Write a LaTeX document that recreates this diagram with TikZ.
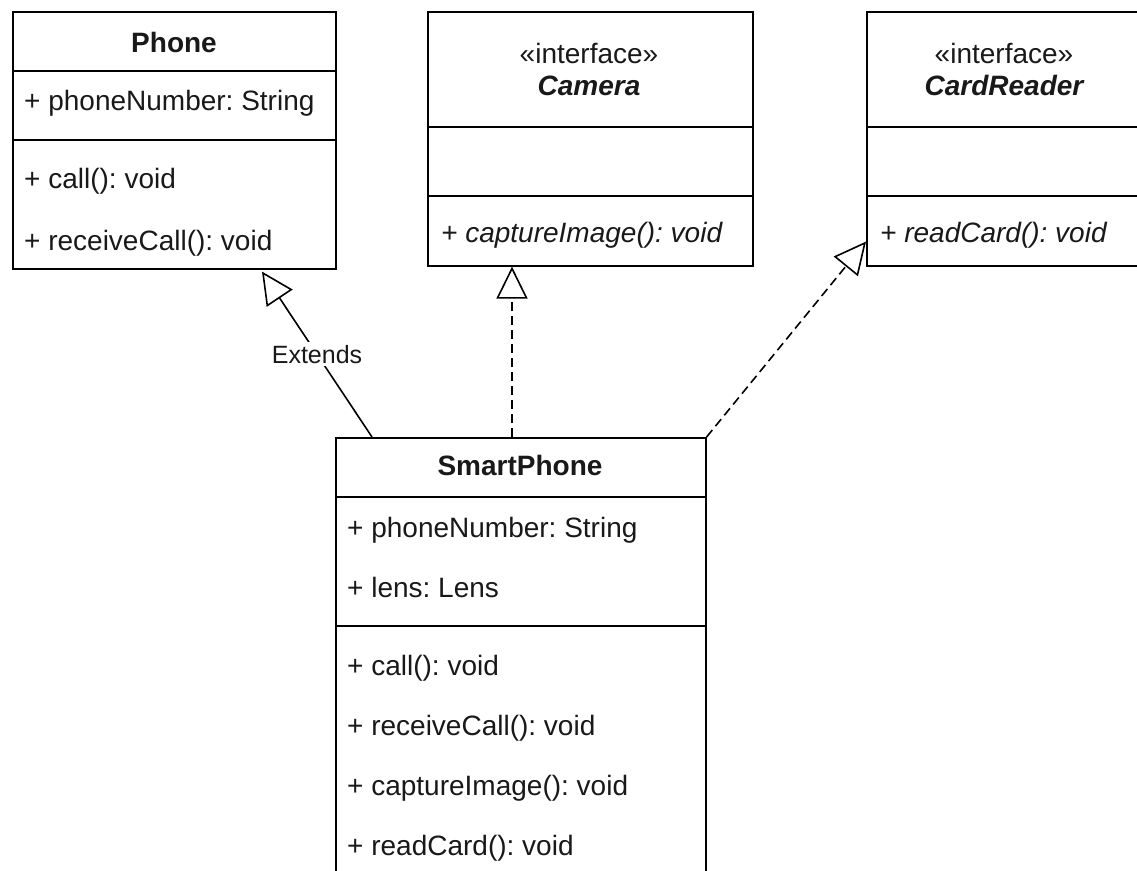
\documentclass[tikz,border=0pt]{standalone}
\usepackage{fontspec}
\setmainfont{Liberation Sans}
\usetikzlibrary{arrows.meta}
\frenchspacing
\begin{document}
\begin{tikzpicture}[x=1pt,y=-1pt,
  umlbox/.style={draw=black, line width=1.6pt, fill=none, inner sep=0pt, anchor=north west},
  sep/.style={line width=1.5pt},
  txt/.style={anchor=base west, inner sep=0pt, font=\fontsize{28}{34}\selectfont, text=black!90},
  itxt/.style={txt, font=\fontsize{28}{34}\selectfont\itshape},
  head/.style={anchor=base, inner sep=0pt, font=\fontsize{28}{34}\selectfont\bfseries, text=black!90},
  ihead/.style={head, font=\fontsize{28}{34}\selectfont\bfseries\itshape},
  stereo/.style={anchor=base, inner sep=0pt, font=\fontsize{28}{34}\selectfont, text=black!90},
  gen/.style={line width=1.6pt, -{Triangle[open, length=32pt, width=31pt, fill=white]}},
  real/.style={gen, dash pattern=on 9pt off 5pt},
  lbl/.style={fill=white, inner sep=3pt, font=\fontsize{25}{30}\selectfont, text=black!90}
]
\useasboundingbox (0,0) rectangle (1137,870);
\fill[white] (0,0) rectangle (1137,870);

% Phone
\node[umlbox, minimum width=323pt, minimum height=257pt] (phone) at (12,11) {};
\draw[sep] (12,71) -- (335,71);
\draw[sep] (12,140) -- (335,140);
\node[head] (phonet) at (174,52) {Phone};
\node[txt] (pa1) at (24,110) {+ phoneNumber: String};
\node[txt] (pm1) at (24,188) {+ call(): void};
\node[txt] (pm2) at (24,250) {+ receiveCall(): void};

% Camera
\node[umlbox, minimum width=325pt, minimum height=254pt] (camera) at (427,11) {};
\draw[sep] (427,127) -- (752,127);
\draw[sep] (427,196) -- (752,196);
\node[stereo] (cs) at (589,63) {«interface»};
\node[ihead] (ct) at (589,95) {Camera};
\node[itxt] (cm1) at (441,242) {+ captureImage(): void};

% CardReader
\node[umlbox, minimum width=276pt, minimum height=254pt] (card) at (866,11) {};
\draw[sep] (866,127) -- (1142,127);
\draw[sep] (866,196) -- (1142,196);
\node[stereo] (rs) at (1004,63) {«interface»};
\node[ihead] (rt) at (1004,95) {CardReader};
\node[itxt] (rm1) at (880,242) {+ readCard(): void};

% SmartPhone
\node[umlbox, minimum width=370pt, minimum height=450pt] (smart) at (335,437) {};
\draw[sep] (335,497) -- (705,497);
\draw[sep] (335,626) -- (705,626);
\node[head] (st) at (520,475) {SmartPhone};
\node[txt] (sa1) at (347,537) {+ phoneNumber: String};
\node[txt] (sa2) at (347,597) {+ lens: Lens};
\node[txt] (sm1) at (347,675) {+ call(): void};
\node[txt] (sm2) at (347,735) {+ receiveCall(): void};
\node[txt] (sm3) at (347,795) {+ captureImage(): void};
\node[txt] (sm4) at (347,855) {+ readCard(): void};

% Connectors
\draw[gen] ([xshift=37pt]smart.north west) -- node[lbl] {Extends} ([xshift=250pt, yshift=-2pt]phone.south west);
\draw[real] ([xshift=177pt]smart.north west) -- ([xshift=85pt]camera.south west);
\draw[real] (smart.north east) -- ([yshift=25pt]card.south west);
\end{tikzpicture}
\end{document}
